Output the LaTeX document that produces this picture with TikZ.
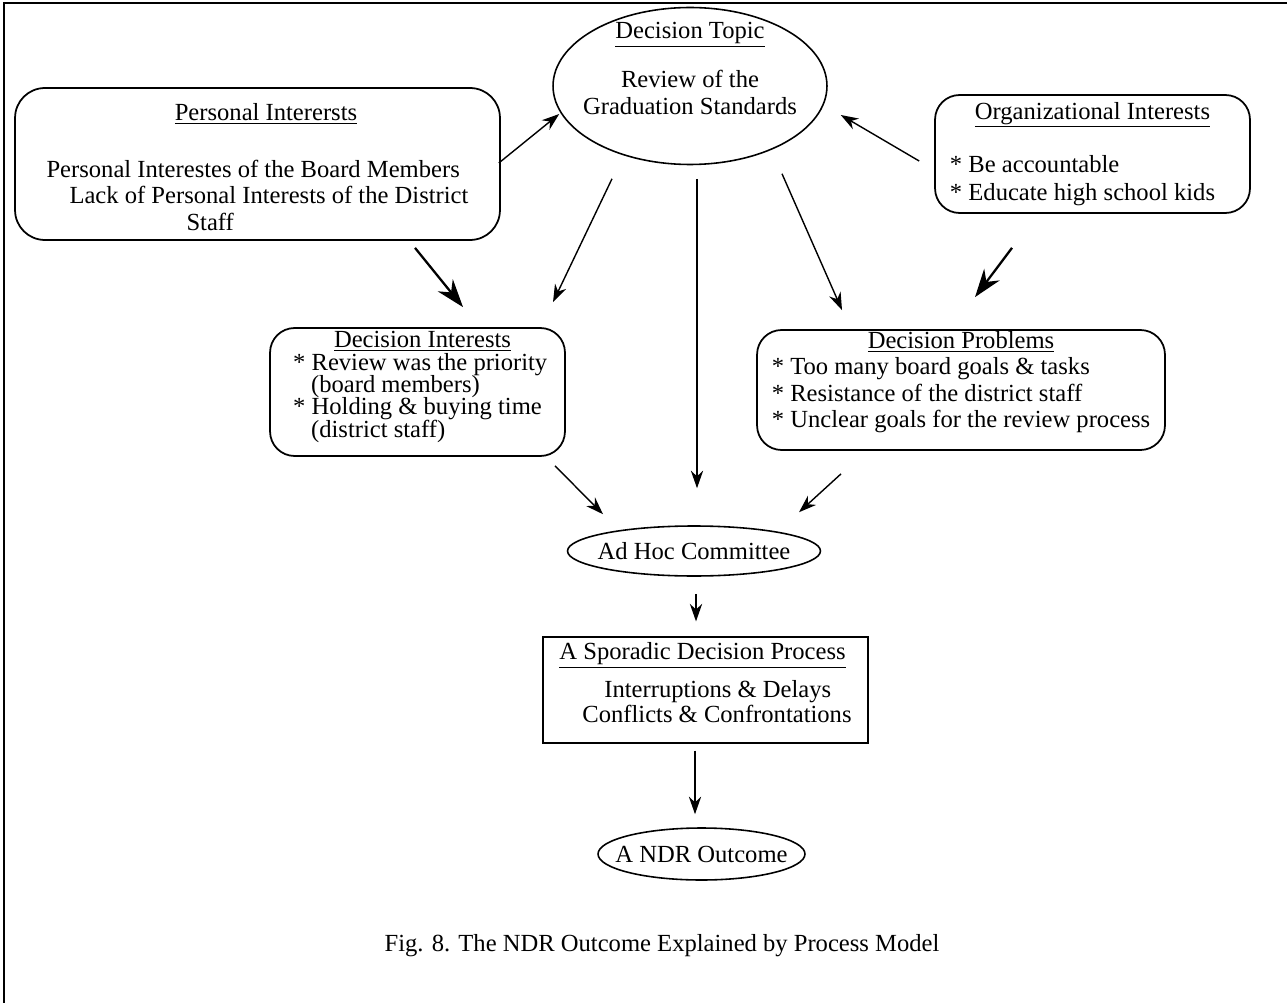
\documentclass[tikz,border=0pt]{standalone}
\usepackage{fontspec}
\setmainfont{Liberation Serif}
\usetikzlibrary{shapes.geometric, arrows.meta, calc}

\begin{document}
\begin{tikzpicture}[
    x=0.02cm, y=-0.02cm,
    font=\fontsize{14}{15}\selectfont,
    box/.style={rectangle, draw, line width=1pt, rounded corners=14pt, inner sep=0pt},
    oval/.style={ellipse, draw, line width=0.9pt, inner xsep=-2cm, inner ysep=-1cm},
    plainbox/.style={rectangle, draw, line width=0.7pt, inner sep=0pt},
    arrow/.style={-{Stealth[length=10pt, width=7pt]}, line width=0.8pt},
    heavy/.style={-{Stealth[length=16pt, width=11pt]}, line width=1.3pt}
]
    \useasboundingbox (0,0) rectangle (1287,1003);
    \draw[line width=0.8pt] (4,1003) -- (4,3) -- (1287,3);

    % Components
    \node[oval, minimum width=5.48cm, minimum height=3.14cm] (topic) at (690,86) {%
        \begin{tabular}{@{}c@{}}
        \underline{Decision Topic}\\[0.46cm]
        Review of the\\
        Graduation Standards\rule[-0.75cm]{0pt}{0pt}
        \end{tabular}};
    \node[box, rounded corners=17pt, minimum width=9.7cm, minimum height=3.04cm] (pers) at (257.5,164) {%
        \begin{tabular}{@{}l@{}}
        \multicolumn{1}{@{}c@{}}{\rule{0pt}{0.62cm}\hspace*{0.34cm}\underline{Personal Interersts}}\\[0.61cm]
        Personal Interestes of the Board Members\\
        \hspace*{0.46cm}Lack of Personal Interests of the District\\
        \hspace*{2.8cm}Staff
        \end{tabular}};
    \node[box, font=\fontsize{14}{16}\selectfont, minimum width=6.3cm, minimum height=2.36cm] (org) at (1092.5,154) {%
        \begin{tabular}{@{}l@{}}
        \multicolumn{1}{@{}c@{}}{\underline{Organizational Interests}}\\[0.5cm]
        {*} Be accountable\\
        {*} Educate high school kids\hspace*{0.4cm}
        \end{tabular}};

    \node[box, font=\fontsize{14}{12}\selectfont, minimum width=5.9cm, minimum height=2.56cm] (dint) at (417.5,392) {%
        \begin{tabular}{@{}l@{}}
        \multicolumn{1}{@{}c@{}}{\hspace*{0.2cm}\underline{Decision Interests}}\\[-0.6pt]
        {*} Review was the priority\hspace*{-0.4cm}\\[-0.6pt]
        \hspace*{0.36cm}(board members)\\[-0.6pt]
        {*} Holding \& buying time\\[-0.6pt]
        \hspace*{0.36cm}(district staff)\rule[-0.3cm]{0pt}{0pt}
        \end{tabular}};
    \node[box, minimum width=8.16cm, minimum height=2.36cm] (dprob) at (961,390) {%
        \begin{tabular}{@{}l@{}}
        \multicolumn{1}{@{}c@{}}{\underline{Decision Problems}}\\
        {*} Too many board goals \& tasks\\
        {*} Resistance of the district staff\\
        {*} Unclear goals for the review process\rule[-0.45cm]{0pt}{0pt}
        \end{tabular}};

    \node[oval, minimum width=5.06cm, minimum height=1.0cm] (adhoc) at (694,551) {Ad Hoc Committee};
    \node[plainbox, font=\fontsize{14}{14}\selectfont, minimum width=6.5cm, minimum height=2.12cm] (spor) at (705.5,690) {%
        \begin{tabular}{@{}l@{}}
        \underline{A Sporadic Decision Process}\\[0.27cm]
        \hspace*{0.9cm}Interruptions \& Delays\\
        \hspace*{0.46cm}Conflicts \& Confrontations\rule[-0.3cm]{0pt}{0pt}
        \end{tabular}};
    \node[oval, minimum width=4.14cm, minimum height=1.04cm] (ndr) at (701.5,854) {A NDR Outcome};

    \node (cap) at (662,946) {Fig. 8. The NDR Outcome Explained by Process Model};

    % Flow arrows
    \draw[arrow] ($(pers.east)+(-2,-1)$) -- ($(topic.west)+(7,28)$);
    \draw[arrow] ($(org.west)+(-15,7)$) -- ($(topic.east)+(13,29)$);
    \draw[heavy] ($(pers.south)+(157.5,7)$) -- ($(dint.north)+(45.5,-20)$);
    \draw[arrow] ($(topic.south)+(-78,13.5)$) -- ($(dint.north)+(135.5,-25)$);
    \draw[arrow] ($(topic.south)+(7,13.5)$) -- ($(adhoc.north)+(3,-37)$);
    \draw[arrow] ($(topic.south)+(92,8.5)$) -- ($(dprob.north)+(-119,-19)$);
    \draw[heavy] ($(org.south)+(-80.5,34)$) -- ($(dprob.north)+(14,-32)$);
    \draw[arrow] ($(dint.south)+(137.5,9)$) -- ($(adhoc.north)+(-91,-11)$);
    \draw[arrow] ($(dprob.south)+(-120,23)$) -- ($(adhoc.north)+(105,-13)$);
    \draw[arrow] ($(adhoc.south)+(2,17)$) -- ($(spor.north)+(-9.5,-15)$);
    \draw[arrow] ($(spor.south)+(-10.5,7)$) -- ($(ndr.north)+(-6.5,-13)$);
\end{tikzpicture}
\end{document}
